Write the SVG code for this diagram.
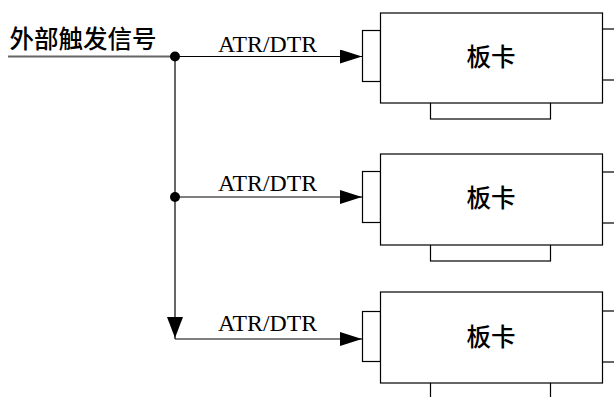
<svg xmlns="http://www.w3.org/2000/svg" width="614" height="397" viewBox="0 0 614 397">
<style>
.ln{stroke:#000;stroke-width:1.2;fill:none}
.bx{stroke:#000;stroke-width:1.2;fill:#fff}
.cn{font-family:"Noto Sans CJK SC","Noto Sans",sans-serif;fill:#000;font-weight:500}
.lb{font-family:"Liberation Serif",serif;font-size:23.8px;fill:#000}
</style>
<defs>
<marker id="ah" markerWidth="22" markerHeight="14" refX="22" refY="7" orient="auto" markerUnits="userSpaceOnUse">
<path d="M0,0 L22,7 L0,14 Z" fill="#000"/>
</marker>
</defs>
<rect width="614" height="397" fill="#fff"/>
<text class="cn" x="9.5" y="48" font-size="24.5">外部触发信号</text>
<g id="connectors">
<line x1="8" y1="56.5" x2="175" y2="56.5" stroke="#666" stroke-width="2"/>
<line class="ln" x1="175" y1="56.5" x2="362" y2="56.5" marker-end="url(#ah)"/>
<line class="ln" x1="175" y1="197" x2="362" y2="197" marker-end="url(#ah)"/>
<line class="ln" x1="175" y1="339" x2="362" y2="339" marker-end="url(#ah)"/>
<line class="ln" x1="175" y1="56" x2="175" y2="339"/>
<path d="M167,317 L183,317 L175,338 Z" fill="#000"/>
<circle cx="175" cy="56.5" r="5" fill="#000"/>
<circle cx="175" cy="197" r="5" fill="#000"/>
<text class="lb" x="218" y="51.5">ATR/DTR</text>
<text class="lb" x="218" y="190.5">ATR/DTR</text>
<text class="lb" x="218" y="331">ATR/DTR</text>
</g>
<g id="card1">
<rect class="bx" x="362.5" y="30.5" width="18" height="51"/>
<rect class="bx" x="430.5" y="102" width="120" height="17"/>
<rect class="bx" x="380.5" y="13" width="222" height="90"/>
<line class="ln" x1="603" y1="29" x2="614" y2="29"/>
<line class="ln" x1="603" y1="80" x2="614" y2="80"/>
<text class="cn" x="491" y="65.5" font-size="24.5" text-anchor="middle">板卡</text>
</g>
<g id="card2">
<rect class="bx" x="362.5" y="171.5" width="18" height="51"/>
<rect class="bx" x="430.5" y="244" width="120" height="17"/>
<rect class="bx" x="380.5" y="154" width="222" height="91"/>
<line class="ln" x1="603" y1="172" x2="614" y2="172"/>
<line class="ln" x1="603" y1="223" x2="614" y2="223"/>
<text class="cn" x="491" y="207" font-size="24.5" text-anchor="middle">板卡</text>
</g>
<g id="card3">
<rect class="bx" x="362.5" y="311.5" width="18" height="50"/>
<rect class="bx" x="430.5" y="382" width="120" height="17"/>
<rect class="bx" x="380.5" y="292" width="222" height="91"/>
<line class="ln" x1="603" y1="311" x2="614" y2="311"/>
<line class="ln" x1="603" y1="362" x2="614" y2="362"/>
<text class="cn" x="491" y="346" font-size="24.5" text-anchor="middle">板卡</text>
</g>
</svg>
